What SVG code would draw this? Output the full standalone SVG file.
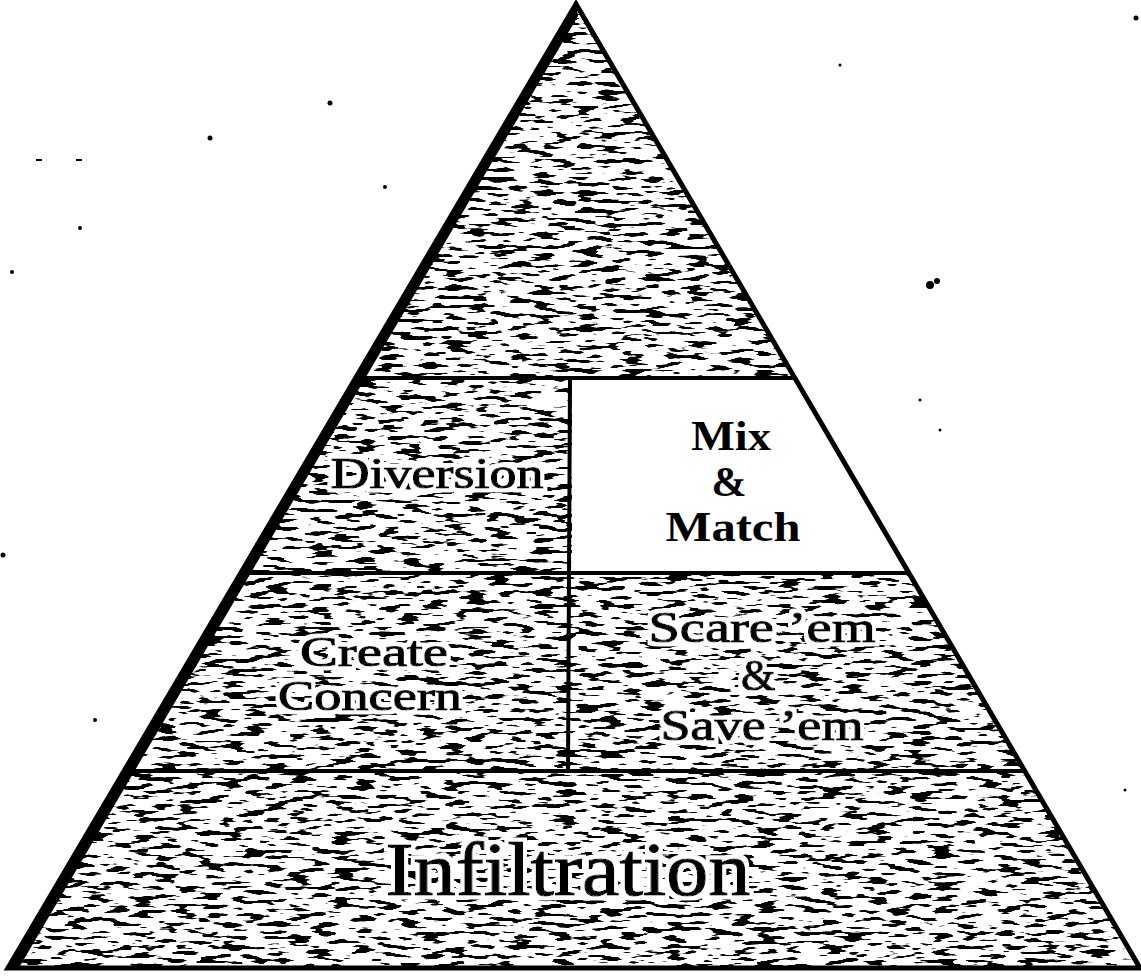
<svg xmlns="http://www.w3.org/2000/svg" width="1141" height="976" viewBox="0 0 1141 976">
<style>
.lbl{font-family:"Liberation Serif","Times New Roman",serif;fill:#000;text-anchor:middle;stroke:#000;stroke-width:1.2;filter:url(#halo)}
.bold{font-weight:bold;stroke:none;filter:none}
.div{stroke:#000;stroke-width:4;fill:none}
.speck{fill:#000}
</style>
<defs>
<clipPath id="tri"><polygon points="576,4 8,968 1140,968"/></clipPath>
<filter id="tex" filterUnits="userSpaceOnUse" x="0" y="0" width="1141" height="976">
<feTurbulence type="fractalNoise" baseFrequency="0.045 0.22" numOctaves="2" seed="7" result="n"/>
<feColorMatrix in="n" type="matrix" values="0 0 0 0 0  0 0 0 0 0  0 0 0 0 0  1 0 0 0 0" result="a"/>
<feComponentTransfer in="a"><feFuncA type="linear" slope="28" intercept="-15.5"/></feComponentTransfer>
</filter>
<filter id="halo" x="-10%" y="-30%" width="120%" height="160%">
<feMorphology in="SourceAlpha" operator="dilate" radius="4" result="d"/>
<feFlood flood-color="#fff"/>
<feComposite in2="d" operator="in" result="w"/>
<feMerge><feMergeNode in="w"/><feMergeNode in="SourceGraphic"/></feMerge>
</filter>
</defs>
<rect width="1141" height="976" fill="#fff"/>
<g id="pyramid-texture" clip-path="url(#tri)">
<rect x="0" y="0" width="1141" height="976" fill="#fff"/>
<rect x="0" y="0" width="1141" height="976" fill="#000" filter="url(#tex)"/>
</g>
<g id="mix-match">
<polygon points="572,378 795,378 909,573 572,573" fill="#fff"/>
<text class="lbl bold" x="731" y="450" font-size="42" textLength="80" lengthAdjust="spacingAndGlyphs">Mix</text>
<text class="lbl bold" x="729" y="496" font-size="42">&amp;</text>
<text class="lbl bold" x="733" y="541" font-size="42" textLength="135" lengthAdjust="spacingAndGlyphs">Match</text>
</g>
<g id="apex"></g>
<g id="diversion">
<text class="lbl" x="437" y="488" font-size="44" textLength="213" lengthAdjust="spacingAndGlyphs">Diversion</text>
</g>
<g id="create-concern">
<text class="lbl" x="374" y="666" font-size="42" textLength="148" lengthAdjust="spacingAndGlyphs">Create</text>
<text class="lbl" x="370" y="710" font-size="42" textLength="184" lengthAdjust="spacingAndGlyphs">Concern</text>
</g>
<g id="scare-save">
<text class="lbl" x="762" y="642" font-size="44" textLength="227" lengthAdjust="spacingAndGlyphs">Scare ’em</text>
<text class="lbl" x="758" y="690" font-size="44">&amp;</text>
<text class="lbl" x="762" y="740" font-size="44" textLength="203" lengthAdjust="spacingAndGlyphs">Save ’em</text>
</g>
<g id="infiltration">
<text class="lbl" x="568" y="895" font-size="76" textLength="365" lengthAdjust="spacingAndGlyphs">Infiltration</text>
</g>
<g id="connectors">
<polygon points="576,4 8,968 1140,968" fill="none" stroke="#000" stroke-width="5" stroke-linejoin="miter"/>
<polygon points="576,4 8,968 20,966 578,16" fill="#000"/>
<line class="div" x1="356" y1="378" x2="795" y2="378"/>
<line class="div" x1="241" y1="573" x2="909" y2="573"/>
<line class="div" x1="125" y1="771" x2="1024" y2="771"/>
<line class="div" x1="570" y1="378" x2="568" y2="771"/>
</g>
<g id="specks">
<circle class="speck" cx="210" cy="138" r="2.5"/>
<circle class="speck" cx="330" cy="103" r="2.5"/>
<rect class="speck" x="36" y="159" width="6" height="2"/>
<rect class="speck" x="76" y="159" width="6" height="2"/>
<circle class="speck" cx="385" cy="187" r="2"/>
<circle class="speck" cx="80" cy="228" r="2"/>
<circle class="speck" cx="12" cy="272" r="2"/>
<circle class="speck" cx="930" cy="285" r="4"/>
<circle class="speck" cx="937" cy="281" r="3"/>
<circle class="speck" cx="1136" cy="18" r="2.5"/>
<circle class="speck" cx="840" cy="65" r="1.5"/>
<circle class="speck" cx="920" cy="400" r="1.5"/>
<circle class="speck" cx="940" cy="430" r="1.5"/>
<circle class="speck" cx="3" cy="555" r="2.5"/>
<circle class="speck" cx="95" cy="720" r="2"/>
<circle class="speck" cx="1125" cy="790" r="1.5"/>
</g>
</svg>
